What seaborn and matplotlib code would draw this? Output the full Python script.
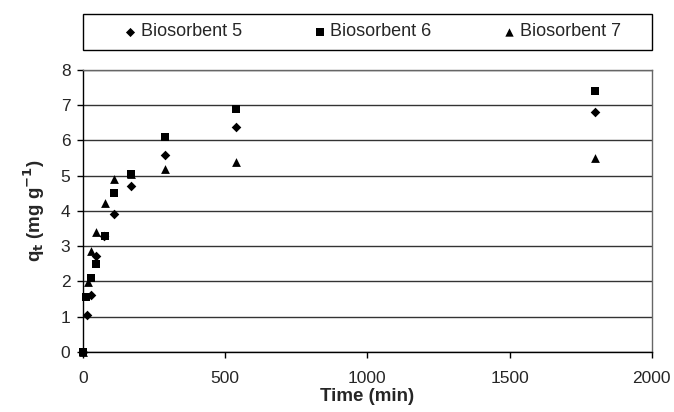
import pandas as pd
import matplotlib
matplotlib.use('Agg')
import matplotlib.pyplot as plt
from matplotlib.patches import Rectangle
import seaborn as sns

# kinetic data
time_5 = [0, 15, 30, 45, 75, 110, 170, 290, 540, 1800]
q_5 = [0, 1.06, 1.62, 2.71, 3.29, 3.92, 4.70, 5.59, 6.38, 6.80]

time_6 = [0, 12, 29, 47, 76, 110, 170, 290, 540, 1800]
q_6 = [0, 1.57, 2.10, 2.48, 3.30, 4.52, 5.06, 6.09, 6.90, 7.40]

time_7 = [0, 18, 29, 47, 78, 110, 170, 290, 540, 1800]
q_7 = [0, 1.97, 2.85, 3.39, 4.23, 4.90, 5.05, 5.18, 5.39, 5.50]

series = ['Biosorbent 5', 'Biosorbent 6', 'Biosorbent 7']

df = pd.concat([
    pd.DataFrame({'Time': time_5, 'q': q_5, 'Series': series[0]}),
    pd.DataFrame({'Time': time_6, 'q': q_6, 'Series': series[1]}),
    pd.DataFrame({'Time': time_7, 'q': q_7, 'Series': series[2]}),
])

sns.set_style('white')
plt.rcParams['font.family'] = ['Liberation Sans', 'DejaVu Sans']

fig = plt.figure(figsize=(6.74, 4.12), dpi=100)
ax = fig.add_axes([0.123, 0.146, 0.844, 0.684])

markers = {series[0]: 'D', series[1]: 's', series[2]: '^'}
sizes_m = {series[0]: 24, series[1]: 34, series[2]: 40}
for s in series:
    sub = df[df['Series'] == s]
    sns.scatterplot(data=sub, x='Time', y='q', marker=markers[s], color='black',
                    s=sizes_m[s], edgecolor='black', linewidth=0, ax=ax, label=s,
                    zorder=3, clip_on=False)

ax.set_xlim(0, 2000)
ax.set_ylim(0, 8)
ax.set_xticks([0, 500, 1000, 1500, 2000])
ax.set_yticks(range(0, 9))
ax.yaxis.grid(True, color='#333333', linewidth=1.0)
ax.set_axisbelow(True)

for side in ['left', 'bottom']:
    ax.spines[side].set_color('black')
    ax.spines[side].set_linewidth(1.0)
for side in ['top', 'right']:
    ax.spines[side].set_color('#666666')
    ax.spines[side].set_linewidth(1.0)

ax.tick_params(axis='both', direction='out', length=4, width=1, color='black',
               labelsize=12.5, left=True, bottom=True)
ax.tick_params(axis='x', pad=10)
ax.tick_params(axis='y', pad=5)

ax.set_xlabel('Time (min)', fontsize=13.5, fontweight='bold', labelpad=1)
ax.set_ylabel(r'q$_\mathbf{t}$ (mg g$^\mathbf{-1}$)', fontsize=13.5, fontweight='bold', labelpad=10)

# legend box spanning the plot width, entries centred in it
leg = ax.legend(loc='center', bbox_to_anchor=(0.508, 1.135), ncol=3, frameon=False,
                fontsize=13, handlelength=0.8, handletextpad=0.2, columnspacing=3.9,
                markerscale=0.95, borderpad=0)
ax.add_patch(Rectangle((0, 1.071), 1, 0.128, transform=ax.transAxes, fill=False,
                       edgecolor='black', linewidth=1.0, clip_on=False))

fig.savefig('out.png', dpi=100)
